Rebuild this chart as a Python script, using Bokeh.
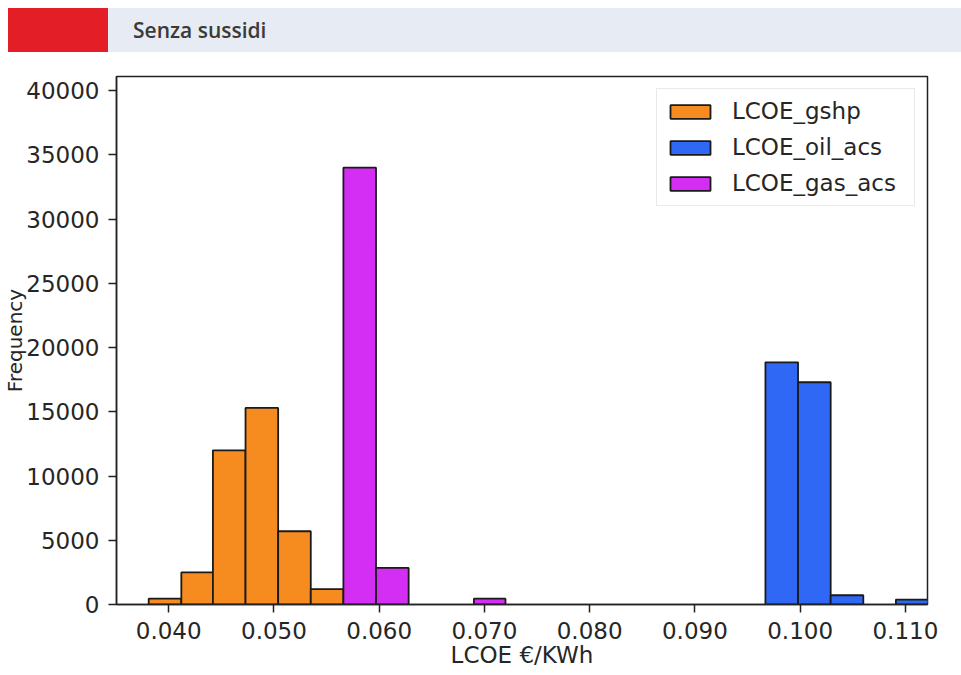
from bokeh.plotting import figure
from bokeh.layouts import column
from bokeh.models import (ColumnDataSource, FixedTicker, NumeralTickFormatter,
                          Range1d, Div)
from bokeh.embed import file_html
from bokeh.resources import INLINE

# ---------------- data ----------------
header_title = "Senza sussidi"
x_title = "LCOE €/KWh"
y_title = "Frequency"

bin_edges = [0.0381, 0.0412, 0.0442, 0.0473, 0.0504, 0.0535, 0.0566, 0.0597,
             0.0628, 0.0659, 0.0690, 0.0720, 0.0751, 0.0782, 0.0813, 0.0844,
             0.0875, 0.0906, 0.0937, 0.0967, 0.0998, 0.1029, 0.1060, 0.1091,
             0.1122]

series_names = ["LCOE_gshp", "LCOE_oil_acs", "LCOE_gas_acs"]
counts_gshp = [450, 2500, 12000, 15300, 5700, 1200, 0, 0, 0, 0, 0, 0,
               0, 0, 0, 0, 0, 0, 0, 0, 0, 0, 0, 0]
counts_oil = [0, 0, 0, 0, 0, 0, 0, 0, 0, 0, 0, 0,
              0, 0, 0, 0, 0, 0, 0, 18850, 17300, 720, 0, 380]
counts_gas = [0, 0, 0, 0, 0, 0, 34000, 2850, 0, 0, 450, 0,
              0, 0, 0, 0, 0, 0, 0, 0, 0, 0, 0, 0]
series_colors = ["#f68b1f", "#3068f6", "#d42ef5"]

x_ticks = [0.040, 0.050, 0.060, 0.070, 0.080, 0.090, 0.100, 0.110]
y_ticks = [0, 5000, 10000, 15000, 20000, 25000, 30000, 35000, 40000]
x_start, x_end = 0.03504, 0.1121
y_start, y_end = 0, 41100

FONT = "DejaVu Sans"
FS = "23px"

# ---------------- header ----------------
W = 961
head_html = (
    '<div style="box-sizing:border-box; padding:8px 0 0 8px; width:961px; '
    'height:52px; display:flex;">'
    '<div style="width:100px; height:44px; background:#e41e26;"></div>'
    '<div style="flex:1; height:44px; background:#e7ebf3; display:flex; '
    'align-items:center; padding-left:25px; font-family:\'Open Sans\'; '
    'font-weight:600; font-size:21px; color:#3a3a3a;">'
    + header_title + '</div></div>'
)
head = Div(text=head_html, width=W, height=52, margin=0)

# ---------------- main plot ----------------
p = figure(width=W, height=623, output_backend="svg", toolbar_location=None,
           x_range=Range1d(x_start, x_end), y_range=Range1d(y_start, y_end),
           min_border_left=116, min_border_right=34, min_border_top=24,
           min_border_bottom=71)
p.grid.visible = False
p.background_fill_color = "white"
p.border_fill_color = "white"
p.outline_line_color = "#222222"
p.outline_line_width = 1.5

for name, counts, color in zip(series_names, [counts_gshp, counts_oil, counts_gas],
                               series_colors):
    lefts, rights, tops = [], [], []
    for i, c in enumerate(counts):
        if c > 0:
            lefts.append(bin_edges[i])
            rights.append(bin_edges[i + 1])
            tops.append(c)
    src = ColumnDataSource(dict(left=lefts, right=rights, top=tops,
                                bottom=[0] * len(tops)))
    p.quad(left="left", right="right", top="top", bottom="bottom", source=src,
           fill_color=color, line_color="#1a1a1a", line_width=1.8,
           legend_label=name)

for ax in (p.xaxis[0], p.yaxis[0]):
    ax.axis_line_color = "#222222"
    ax.axis_line_width = 1.5
    ax.major_tick_line_color = "#222222"
    ax.major_tick_line_width = 1.5
    ax.major_tick_out = 8
    ax.major_tick_in = 0
    ax.minor_tick_line_color = None
    ax.major_label_text_font = FONT
    ax.major_label_text_font_size = FS
    ax.major_label_text_color = "#262626"
    ax.axis_label_text_font = FONT
    ax.axis_label_text_font_style = "normal"
    ax.axis_label_text_color = "#262626"

p.xaxis[0].ticker = FixedTicker(ticks=x_ticks)
p.xaxis[0].formatter = NumeralTickFormatter(format="0.000")
p.xaxis[0].major_label_standoff = 9
p.xaxis[0].axis_label = x_title
p.xaxis[0].axis_label_text_font_size = FS
p.xaxis[0].axis_label_standoff = 0

p.yaxis[0].ticker = FixedTicker(ticks=y_ticks)
p.yaxis[0].major_label_standoff = 9
p.yaxis[0].axis_label = y_title
p.yaxis[0].axis_label_text_font_size = "20px"
p.yaxis[0].axis_label_standoff = -4

lg = p.legend[0]
lg.location = "top_right"
lg.margin = 12
lg.padding = 8
lg.spacing = 8
lg.glyph_width = 50
lg.glyph_height = 17
lg.label_height = 28
lg.label_width = 174
lg.label_standoff = 17
lg.label_text_font = FONT
lg.label_text_font_size = FS
lg.label_text_color = "#262626"
lg.border_line_color = "#d4d4d4"
lg.border_line_width = 1
lg.background_fill_alpha = 0.85

layout = column(head, p, spacing=0)
open("out.html", "w").write(file_html(layout, INLINE))
